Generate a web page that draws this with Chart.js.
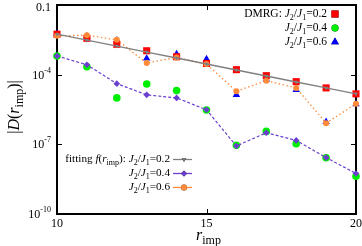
<!DOCTYPE html>
<html>
<head>
<meta charset="utf-8">
<script src="https://cdn.jsdelivr.net/npm/chart.js@4.4.1/dist/chart.umd.min.js"></script>
<style>
  html, body { margin: 0; padding: 0; background: #fff; }
</style>
</head>
<body>
<canvas id="myChart" width="362" height="246"></canvas>
<script>
// r_imp values
const rImp = [10, 11, 12, 13, 14, 15, 16, 17, 18, 19, 20];

// DMRG data
const dmrg02 = [5.55e-3, 3.67e-3, 2.03e-3, 1.07e-3, 5.9e-4, 3.05e-4, 1.64e-4, 9.06e-5, 5.0e-5, 2.69e-5, 1.49e-5];
const dmrg04 = [6.33e-4, 2.2e-4, 1.0e-5, 3.99e-5, 2.06e-5, 3.01e-6, 9.06e-8, 3.6e-7, 1.07e-7, 2.64e-8, 4.25e-9];
const dmrg06 = [5.72e-3, 4.47e-3, 3.01e-3, 5.0e-4, 7.71e-4, 4.71e-4, 1.35e-5, 6.1e-5, 2.21e-5, 9.4e-7, 5.44e-6];

// fitting f(r_imp)
const fit02 = [5.55e-3, 3.07e-3, 1.70e-3, 9.4e-4, 5.2e-4, 2.88e-4, 1.59e-4, 8.8e-5, 4.86e-5, 2.69e-5, 1.49e-5];
const fit04 = [6.33e-4, 2.68e-4, 4.11e-5, 1.35e-5, 1.0e-5, 3.07e-6, 8.45e-8, 3.17e-7, 1.48e-7, 2.69e-8, 5.55e-9];
const fit06 = [4.69e-3, 5.03e-3, 3.16e-3, 3.17e-4, 5.51e-4, 2.87e-4, 1.92e-5, 5.53e-5, 2.69e-5, 8.18e-7, 5.55e-6];

// ticks
const xTicks = [10, 15, 20];
const yTicks = [1e-10, 1e-7, 1e-4, 1e-1];
const yTickText = [["10", "-10"], ["10", "-7"], ["10", "-4"], ["0.1", ""]];

const SERIF = '"Liberation Serif", "DejaVu Serif", serif';
const RED = "#ff0000", GREEN = "#00ee00", BLUE = "#0000ff";
const GRAY = "#808080", PURPLE = "#6a3fd0", ORANGE = "#ff8a3a";

const pts = (vals) => rImp.map((r, i) => ({ x: r, y: vals[i] }));

// draws a run of [text, style] pieces, style: n normal, i italic, s subscript
function rich(ctx, parts, x, y, size, alignRight) {
    const fontOf = (st) => st === "i" ? "italic " + size + "px " + SERIF
        : st === "s" ? Math.round(size * 0.72) + "px " + SERIF
        : size + "px " + SERIF;
    let w = 0;
    parts.forEach(([t, st]) => { ctx.font = fontOf(st); w += ctx.measureText(t).width; });
    let cx = alignRight ? x - w : x;
    ctx.textAlign = "left";
    ctx.textBaseline = "middle";
    parts.forEach(([t, st]) => {
        ctx.font = fontOf(st);
        const dy = st === "s" ? size * 0.3 : 0;
        ctx.fillText(t, cx, y + dy);
        cx += ctx.measureText(t).width;
    });
    return w;
}

const jRatio = (v) => [["J", "i"], ["2", "s"], ["/", "n"], ["J", "i"], ["1", "s"], ["=" + v, "n"]];

function marker(ctx, style, color, x, y, r, rot) {
    Chart.helpers.drawPoint(ctx, { pointStyle: style, radius: r, rotation: rot || 0 }, x, y);
    ctx.fillStyle = color;
    ctx.fill();
}

const deco = {
    id: "deco",
    beforeDatasetsDraw(chart) {
        const { ctx, chartArea: a, scales: { x, y } } = chart;
        ctx.save();
        ctx.strokeStyle = "#000";
        ctx.lineWidth = 1;
        ctx.beginPath();
        xTicks.forEach((v) => {
            const px = Math.round(x.getPixelForValue(v)) + 0.5;
            ctx.moveTo(px, a.bottom); ctx.lineTo(px, a.bottom - 5);
            ctx.moveTo(px, a.top); ctx.lineTo(px, a.top + 5);
        });
        yTicks.forEach((v) => {
            const py = Math.round(y.getPixelForValue(v)) + 0.5;
            ctx.moveTo(a.left, py); ctx.lineTo(a.left + 5, py);
            ctx.moveTo(a.right, py); ctx.lineTo(a.right - 5, py);
        });
        ctx.stroke();
        ctx.lineWidth = 2;
        ctx.strokeRect(a.left, a.top, a.right - a.left, a.bottom - a.top);
        ctx.restore();
    },
    afterDraw(chart) {
        const { ctx, chartArea: a, scales: { x, y } } = chart;
        ctx.save();
        ctx.fillStyle = "#000";

        // tick labels
        ctx.font = "12px " + SERIF;
        ctx.textAlign = "center";
        ctx.textBaseline = "middle";
        xTicks.forEach((v) => ctx.fillText(String(v), x.getPixelForValue(v), a.bottom + 10));
        yTicks.forEach((v, i) => {
            const py = y.getPixelForValue(v);
            const [base, sup] = yTickText[i];
            ctx.font = "8px " + SERIF;
            const sw = sup ? ctx.measureText(sup).width : 0;
            ctx.font = "12px " + SERIF;
            ctx.textAlign = "right";
            ctx.fillText(base, a.left - 6 - sw, sup ? py + 1 : py + 3);
            if (sup) {
                ctx.font = "8px " + SERIF;
                ctx.fillText(sup, a.left - 6, py - 4);
            }
        });

        // axis titles
        rich(ctx, [["r", "i"], ["imp", "s"]], 196, 236, 16, false);
        ctx.save();
        ctx.translate(15, 107);
        ctx.rotate(-Math.PI / 2);
        const parts = [["|", "n"], ["D", "i"], ["(", "n"], ["r", "i"], ["imp", "s"], [")|", "n"]];
        let w = 0;
        parts.forEach(([t, st]) => {
            ctx.font = (st === "i" ? "italic 16px " : st === "s" ? "12px " : "16px ") + SERIF;
            w += ctx.measureText(t).width;
        });
        rich(ctx, parts, -w / 2, 0, 16, false);
        ctx.restore();

        // DMRG legend
        const rows1 = [[["DMRG: ", "n"]].concat(jRatio("0.2")), jRatio("0.4"), jRatio("0.6")];
        const mk1 = [["rect", RED, 5], ["circle", GREEN, 3.5], ["triangle", BLUE, 4.5]];
        rows1.forEach((p, i) => {
            const yy = 14 + i * 14;
            ctx.fillStyle = "#000";
            rich(ctx, p, 327, yy, 11.5, true);
            marker(ctx, mk1[i][0], mk1[i][1], 335, yy, mk1[i][2]);
        });

        // fitting legend
        const rows2 = [[["fitting ", "n"], ["f", "i"], ["(", "n"], ["r", "i"], ["imp", "s"], ["): ", "n"]].concat(jRatio("0.2")),
            jRatio("0.4"), jRatio("0.6")];
        const ln2 = [[GRAY, "triangle", 2.5, 180], [PURPLE, "rectRot", 3, 0], [ORANGE, "circle", 3, 0]];
        rows2.forEach((p, i) => {
            const yy = 159.5 + i * 14;
            ctx.fillStyle = "#000";
            rich(ctx, p, 170, yy, 11.2, true);
            ctx.strokeStyle = ln2[i][0];
            ctx.lineWidth = 1.3;
            ctx.beginPath(); ctx.moveTo(173, yy); ctx.lineTo(192, yy); ctx.stroke();
            marker(ctx, ln2[i][1], ln2[i][0], 184, yy, ln2[i][2], ln2[i][3]);
        });
        ctx.restore();
    }
};

new Chart(document.getElementById("myChart"), {
    type: "line",
    data: {
        datasets: [
            {
                label: "fit 0.2", data: pts(fit02),
                borderColor: GRAY, backgroundColor: GRAY, borderWidth: 1.4,
                pointStyle: "triangle", pointRotation: 180, pointRadius: 2.5, pointBorderWidth: 0,
            },
            {
                label: "fit 0.4", data: pts(fit04),
                borderColor: PURPLE, backgroundColor: PURPLE, borderWidth: 1.2, borderDash: [3, 2],
                pointStyle: "rectRot", pointRadius: 3.3, pointBorderWidth: 0,
            },
            {
                label: "fit 0.6", data: pts(fit06),
                borderColor: ORANGE, backgroundColor: ORANGE, borderWidth: 1.3, borderDash: [1.5, 2.5],
                pointStyle: "circle", pointRadius: 3, pointBorderWidth: 0,
            },
            {
                label: "DMRG 0.2", data: pts(dmrg02), showLine: false,
                backgroundColor: RED, borderColor: RED,
                pointStyle: "rect", pointRadius: 5, pointBorderWidth: 0,
            },
            {
                label: "DMRG 0.4", data: pts(dmrg04), showLine: false,
                backgroundColor: GREEN, borderColor: GREEN,
                pointStyle: "circle", pointRadius: 3.8, pointBorderWidth: 0,
            },
            {
                label: "DMRG 0.6", data: pts(dmrg06), showLine: false,
                backgroundColor: BLUE, borderColor: BLUE,
                pointStyle: "triangle", pointRadius: 4.3, pointBorderWidth: 0,
            },
        ],
    },
    options: {
        responsive: false,
        animation: false,
        devicePixelRatio: 1,
        clip: false,
        layout: { padding: { top: 4, right: 6, left: 0, bottom: 0 } },
        plugins: { legend: { display: false }, tooltip: { enabled: false } },
        scales: {
            x: {
                type: "linear", min: 10, max: 20,
                grid: { display: false }, border: { display: false },
                ticks: { display: false, stepSize: 5 },
                afterFit: (s) => { s.height = 32; },
            },
            y: {
                type: "logarithmic", min: 1e-10, max: 0.1,
                grid: { display: false }, border: { display: false },
                ticks: { display: false },
                afterBuildTicks: (s) => { s.ticks = yTicks.map((v) => ({ value: v })); },
                afterFit: (s) => { s.width = 57; },
            },
        },
    },
    plugins: [deco],
});
</script>
</body>
</html>
